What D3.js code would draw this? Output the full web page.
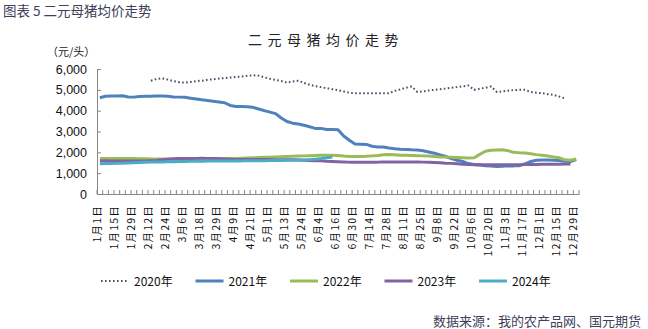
<!DOCTYPE html>
<html>
<head>
<meta charset="utf-8">
<script src="https://cdn.jsdelivr.net/npm/d3@7"></script>
<style>
body{margin:0;background:#fff;}
svg{display:block;font-family:"Liberation Sans","Noto Sans CJK SC",sans-serif;}
.cjk{font-family:"Noto Sans CJK SC","Liberation Sans",sans-serif;}
</style>
</head>
<body>
<div id="chart"></div>
<script>
// sampling dates (labels shown every 3rd one)
const dates = [
"1月1日","1月5日","1月10日","1月15日","1月20日","1月24日","1月29日","2月2日","2月7日","2月12日",
"2月16日","2月20日","2月24日","2月27日","3月2日","3月6日","3月10日","3月14日","3月18日","3月22日",
"3月25日","3月29日","4月2日","4月6日","4月9日","4月13日","4月17日","4月21日","4月24日","4月28日",
"5月1日","5月5日","5月9日","5月13日","5月17日","5月20日","5月24日","5月28日","6月1日","6月4日",
"6月8日","6月12日","6月16日","6月21日","6月25日","6月30日","7月5日","7月9日","7月14日","7月19日",
"7月23日","7月28日","8月2日","8月6日","8月11日","8月16日","8月20日","8月25日","8月30日","9月3日",
"9月8日","9月13日","9月17日","9月22日","9月27日","10月1日","10月6日","10月11日","10月15日","10月20日",
"10月25日","10月29日","11月3日","11月8日","11月12日","11月17日","11月22日","11月26日","12月1日","12月6日",
"12月10日","12月15日","12月20日","12月24日","12月29日"
];

const years = ["2020年","2021年","2022年","2023年","2024年"];

const v2020 = [
null,null,null,null,null,null,null,null,null,5440,
5520,5550,5490,5420,5360,5350,5380,5420,5440,5480,
5510,5540,5560,5590,5620,5640,5670,5700,5680,5600,
5530,5480,5420,5350,5400,5440,5330,5240,5180,5130,
5080,5030,4980,4920,4860,4840,4840,4840,4840,4840,
4840,4840,4950,5020,5100,5160,4900,4930,4970,5000,
5030,5060,5100,5130,5170,5210,5000,5050,5100,5160,
4900,4920,4960,4990,5000,5000,4900,4860,4840,4790,
4760,4680,4590,null,null
];
const v2021 = [
4620,4690,4700,4700,4720,4660,4650,4680,4690,4690,
4700,4700,4690,4660,4650,4640,4600,4560,4520,4490,
4450,4420,4380,4250,4200,4200,4190,4160,4080,4000,
3930,3860,3650,3480,3400,3360,3300,3230,3150,3150,
3100,3100,3080,2780,2580,2400,2390,2380,2290,2260,
2260,2210,2170,2150,2140,2120,2110,2080,2020,1960,
1880,1800,1700,1620,1560,1460,1420,1390,1360,1340,
1320,1330,1350,1350,1360,1450,1560,1620,1630,1630,
1620,1610,1570,1560,1650
];
const v2022 = [
1700,1710,1710,1710,1700,1700,1700,1690,1690,1680,
1680,1680,1680,1670,1670,1680,1680,1680,1690,1690,
1690,1700,1700,1710,1710,1720,1730,1740,1750,1760,
1770,1780,1790,1800,1810,1820,1830,1840,1850,1860,
1860,1860,1850,1820,1800,1800,1800,1810,1830,1850,
1880,1900,1880,1860,1860,1850,1840,1830,1820,1800,
1780,1770,1760,1750,1740,1730,1740,1900,2050,2100,
2110,2120,2080,2000,1980,1970,1930,1890,1860,1820,
1780,1740,1640,1620,1680
];
const v2023 = [
1590,1600,1590,1580,1580,1580,1580,1590,1590,1600,
1610,1640,1670,1690,1700,1710,1710,1710,1720,1710,
1700,1690,1680,1670,1660,1660,1660,1660,1660,1660,
1660,1650,1650,1640,1640,1630,1620,1610,1600,1590,
1570,1560,1550,1540,1530,1530,1530,1530,1530,1530,
1540,1540,1540,1540,1540,1540,1540,1530,1520,1510,
1500,1480,1470,1450,1430,1410,1400,1400,1400,1400,
1400,1400,1400,1400,1400,1410,1420,1420,1430,1430,
1430,1430,1440,1440,null
];
const v2024 = [
1450,1460,1460,1470,1480,1490,1500,1510,1520,1530,
1540,1540,1550,1550,1560,1560,1570,1570,1570,1580,
1580,1580,1590,1590,1590,1590,1600,1600,1600,1600,
1610,1610,1610,1620,1620,1630,1630,1650,1670,1700,
1740,1780,null,null,null,null,null,null,null,null,
null,null,null,null,null,null,null,null,null,null,
null,null,null,null,null,null,null,null,null,null,
null,null,null,null,null,null,null,null,null,null,
null,null,null,null,null
];

const yTicks = [0,1000,2000,3000,4000,5000,6000];

const width = 648;
const height = 329;
const margin = {top:69,right:69,bottom:135,left:97};

const colors = ["#44546a","#4f81bd","#9bbb59","#8064a2","#4bacc6"];
const seriesVals = [v2020,v2021,v2022,v2023,v2024];

const svg = d3.select("#chart")
.append("svg")
.attr("width",width)
.attr("height",height);

const x = d3.scaleBand()
.domain(dates)
.range([margin.left,width-margin.right]);

const y = d3.scaleLinear()
.domain([0,6000])
.range([height-margin.bottom,margin.top]);

const axisY = height-margin.bottom;

// header + titles
svg.append("text").attr("class","cjk")
.attr("x",3).attr("y",16)
.attr("font-size","13.5px").attr("fill","#404058")
.text("图表 5  二元母猪均价走势");

svg.append("text").attr("class","cjk")
.attr("x",326).attr("y",45)
.attr("text-anchor","middle")
.attr("font-size","14px").attr("letter-spacing","5.5px").attr("fill","#222")
.text("二元母猪均价走势");

svg.append("text").attr("class","cjk")
.attr("x",47).attr("y",56)
.attr("font-size","11px").attr("fill","#222")
.text("（元/头）");

// y axis
const gy = svg.append("g")
.attr("transform",`translate(${margin.left},0)`)
.call(d3.axisLeft(y).tickValues(yTicks).tickSize(-4).tickPadding(10).tickFormat(d3.format(",")));
gy.selectAll("path,line").attr("stroke","#868686");
gy.selectAll("text").attr("font-size","12.5px").attr("fill","#111")
.style("font-family","'Liberation Sans',sans-serif");

// x axis (labels every third date)
const labelDates = dates.filter((d,i)=>i%3===0);
const gx = svg.append("g")
.attr("transform",`translate(0,${axisY})`)
.call(d3.axisBottom(x).tickValues(labelDates).tickSize(0).tickPadding(0));
gx.select(".domain").attr("stroke","#868686");
gx.selectAll("text")
.attr("class","cjk")
.attr("transform","rotate(-90)")
.attr("text-anchor","end")
.attr("x",-11)
.attr("y",-3)
.attr("dy","0.35em")
.attr("font-size","10.5px")
.attr("letter-spacing","1.2px")
.attr("fill","#111");

// category boundary ticks, pointing inside
const bounds = dates.map(d=>x(d)).concat([x.range()[1]]);
svg.append("g")
.selectAll("line")
.data(bounds)
.enter()
.append("line")
.attr("x1",d=>d).attr("x2",d=>d)
.attr("y1",axisY).attr("y2",axisY-4)
.attr("stroke","#868686");

// lines
const line = d3.line()
.defined(d=>d.v!=null)
.x(d=>x(d.date)+x.bandwidth()/2)
.y(d=>y(d.v));

seriesVals.forEach((vals,k)=>{
const data = vals.map((v,i)=>({date:dates[i],v:v}));
const p = svg.append("path")
.datum(data)
.attr("fill","none")
.attr("stroke",colors[k])
.attr("stroke-linejoin","round")
.attr("d",line);
if(k===0){
p.attr("stroke-width",2).attr("stroke-dasharray","1.6,2.4");
}else{
p.attr("stroke-width",3);
}
});

// legend
const legend = svg.append("g").attr("transform","translate(101,281)");
years.forEach((name,k)=>{
const g = legend.append("g").attr("transform",`translate(${k*94.5},0)`);
const l = g.append("line")
.attr("x1",0).attr("x2",28).attr("y1",0).attr("y2",0)
.attr("stroke",colors[k]);
if(k===0){
l.attr("stroke-width",2).attr("stroke-dasharray","1.6,2.4");
}else{
l.attr("stroke-width",3);
}
g.append("text").attr("class","cjk")
.attr("x",33).attr("y",4.5)
.attr("font-size","12px").attr("fill","#111")
.text(name);
});

// source
svg.append("text").attr("class","cjk")
.attr("x",433).attr("y",326)
.attr("font-size","13px").attr("fill","#404058")
.text("数据来源：我的农产品网、国元期货");
</script>
</body>
</html>
